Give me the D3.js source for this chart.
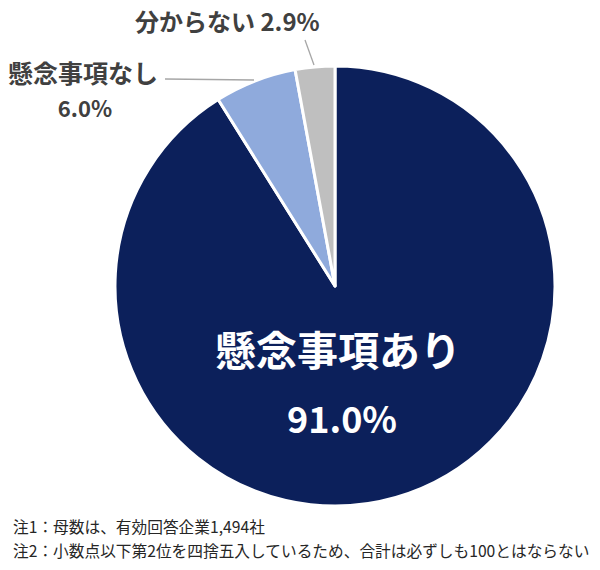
<!DOCTYPE html>
<html><head><meta charset="utf-8">
<script src="https://cdn.jsdelivr.net/npm/d3@7"></script>
<style>body{margin:0;background:#fff;}svg{display:block;font-family:"Noto Sans CJK JP","Noto Sans",sans-serif;}</style>
</head><body>
<script>
const categories = ["懸念事項あり", "懸念事項なし", "分からない"];
const values = [91.0, 6.0, 2.9];
const valueLabels = ["91.0%", "6.0%", "2.9%"];
const colors = ["#0c205b", "#8faadc", "#bfbfbf"];
const notes = ["注1：母数は、有効回答企業1,494社", "注2：小数点以下第2位を四捨五入しているため、合計は必ずしも100とはならない"];

const W = 600, H = 570, cx = 335, cy = 286, R = 220;
const svg = d3.select("body").append("svg").attr("width", W).attr("height", H);
const data = categories.map((c, i) => ({cat: c, v: values[i], lab: valueLabels[i], col: colors[i]}));
const pie = d3.pie().value(d => d.v).sort(null);
const arc = d3.arc().innerRadius(0).outerRadius(R);
const arcs = pie(data);
const g = svg.append("g").attr("transform", `translate(${cx},${cy})`);
g.selectAll("path").data(arcs).join("path")
  .attr("d", arc).attr("fill", d => d.data.col)
  .attr("stroke", "#fff").attr("stroke-width", 3).attr("stroke-linejoin", "round");

// Main label
g.append("text").attr("x", 3).attr("y", 80).attr("text-anchor", "middle")
  .attr("fill", "#fff").attr("font-size", 41).attr("font-weight", "bold").text(data[0].cat);
g.append("text").attr("x", 7).attr("y", 147).attr("text-anchor", "middle")
  .attr("fill", "#fff").attr("font-size", 36).attr("font-weight", "bold").text(data[0].lab);

// Outside labels
const lineCol = "#a6a6a6";
svg.append("line").attr("x1", 165).attr("y1", 79).attr("x2", 254).attr("y2", 80)
  .attr("stroke", lineCol).attr("stroke-width", 1.3);
svg.append("text").attr("x", 8).attr("y", 83).attr("font-size", 25).attr("font-weight", "bold")
  .attr("fill", "#404040").text(data[1].cat);
svg.append("text").attr("x", 85).attr("y", 117).attr("text-anchor", "middle").attr("font-size", 22).attr("font-weight", "bold")
  .attr("fill", "#404040").text(data[1].lab);

svg.append("line").attr("x1", 305).attr("y1", 40).attr("x2", 314).attr("y2", 65)
  .attr("stroke", lineCol).attr("stroke-width", 1.3);
svg.append("text").attr("x", 135).attr("y", 31).attr("font-size", 24).attr("font-weight", "bold")
  .attr("fill", "#404040").text(data[2].cat + " " + data[2].lab);

// Notes
svg.selectAll("text.note").data(notes).join("text").attr("class", "note")
  .attr("x", 13).attr("y", (d, i) => 533 + i * 24).attr("font-size", 15.7).attr("fill", "#262626").text(d => d);
</script>
</body></html>
